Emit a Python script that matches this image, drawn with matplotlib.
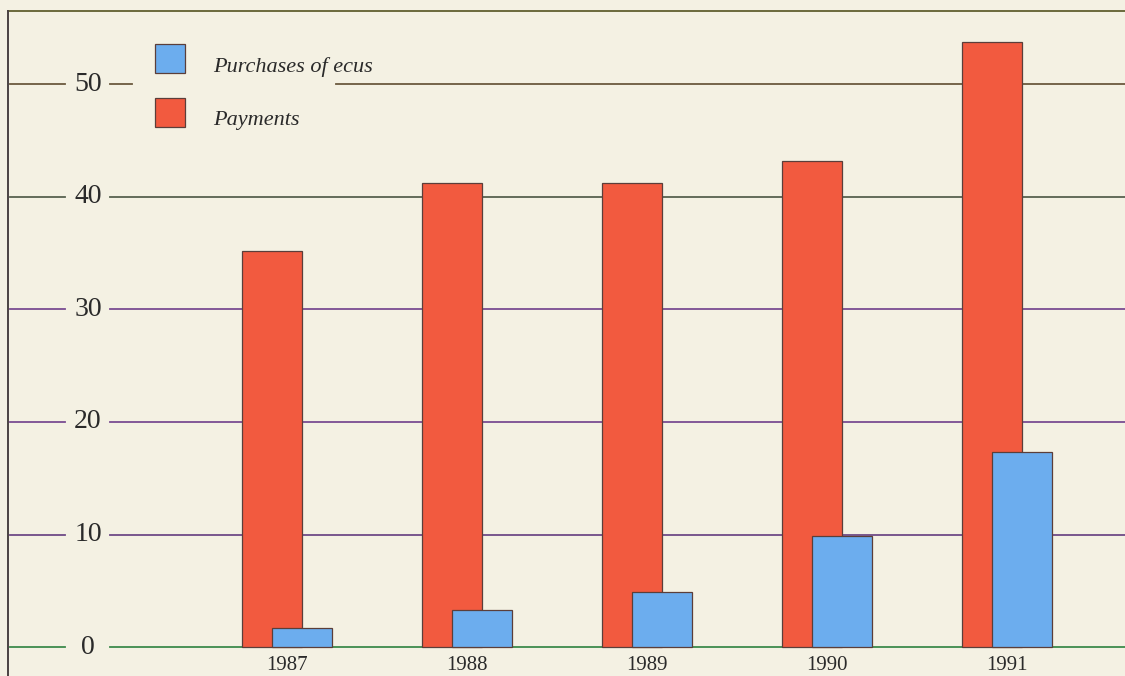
import matplotlib.pyplot as plt
import matplotlib.patches as mpatches
from matplotlib.transforms import blended_transform_factory, ScaledTranslation

years = [1987, 1988, 1989, 1990, 1991]
payments = [35.2, 41.2, 41.2, 43.2, 53.8]
purchases = [1.7, 3.3, 4.9, 9.9, 17.3]

y_ticks = [0, 10, 20, 30, 40, 50]
grid_colors = ["#3d8a4c", "#6e4a86", "#7a4c92", "#7a4c92", "#57624f", "#6b5a3e"]

PAPER = "#f4f1e3"
RED = "#f25a3f"
BLUE = "#6cadee"
EDGE = "#5b3e3a"

W, H = 1125, 676
fig = plt.figure(figsize=(W / 100, H / 100), dpi=100, facecolor=PAPER)
ax = fig.add_axes([0, 0, 1, 1])
ax.set_facecolor(PAPER)

# one year = 180 px, one unit of value = 11.25 px
px_x, px_y = 180.0, 11.25
ax.set_xlim(1987 - 287 / px_x, 1987 + (W - 287) / px_x)
ax.set_ylim(-(H - 647) / px_y, 647 / px_y)
ax.axis("off")

# frame: top rule and left rule
ax.axhline((647 - 11) / px_y, xmin=8 / W, xmax=1, color="#6b6a3c", lw=1.4, zorder=1)
ax.axvline(1987 - 279 / px_x, ymin=0, ymax=1 - 11 / H, color="#4a4242", lw=1.4, zorder=1)

# gridlines broken around the value labels
lab_tr = blended_transform_factory(ax.transAxes, ax.transData)
for val, col in zip(y_ticks, grid_colors):
    segs = [(10, 65), (110, W)]
    if val == 50:
        segs = [(10, 65), (110, 132), (336, W)]
    for a, b in segs:
        ax.axhline(val, xmin=a / W, xmax=b / W, color=col, lw=1.3, zorder=1)
    ax.text(88 / W, val, str(val), transform=lab_tr, ha="center", va="center",
            fontsize=20, family="Liberation Serif", color="#2a2a2a")

off, bw = 1 / 12, 1 / 3
ax.bar([y - off for y in years], payments, width=bw, color=RED,
       edgecolor=EDGE, linewidth=0.9, zorder=2)
ax.bar([y + off for y in years], purchases, width=bw, color=BLUE,
       edgecolor=EDGE, linewidth=0.9, zorder=3)

for y in years:
    ax.text(y, -1.6, str(y), ha="center", va="center", fontsize=15,
            family="Liberation Serif", color="#2a2a2a")

handles = [
    mpatches.Patch(facecolor=BLUE, edgecolor=EDGE, lw=0.9, label="Purchases of ecus"),
    mpatches.Patch(facecolor=RED, edgecolor=EDGE, lw=0.9, label="Payments"),
]
leg = ax.legend(handles=handles, loc="upper left", bbox_to_anchor=(155 / W, 1 - 44 / H),
                bbox_transform=fig.transFigure, frameon=False, borderpad=0,
                borderaxespad=0, handlelength=1.35, handleheight=1.62,
                handletextpad=1.25, labelspacing=1.12,
                prop={"family": "Liberation Serif", "style": "italic", "size": 16})
# labels sit a little below the swatch centres
shift = ScaledTranslation(0, -6 / 100, fig.dpi_scale_trans)
for t in leg.get_texts():
    t.set_color("#2a2a2a")
    t.set_transform(t.get_transform() + shift)

fig.savefig("out.png", dpi=100, facecolor=PAPER)
